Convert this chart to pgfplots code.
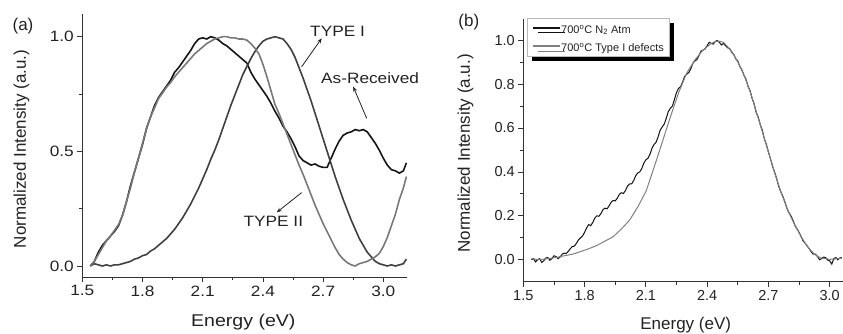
\documentclass[border=0pt]{standalone}
\usepackage{fontspec}
\setmainfont{Liberation Sans}
\newfontfamily\fa{Liberation Sans}[FakeStretch=1.15]
\usepackage{pgfplots}
\pgfplotsset{compat=1.18}
\usetikzlibrary{arrows.meta,shadows}
\definecolor{cAR}{HTML}{151515}
\definecolor{cT1}{HTML}{404040}
\definecolor{cT2}{HTML}{787878}
\definecolor{cB1}{HTML}{111111}
\definecolor{cB2}{HTML}{808080}
\definecolor{cAx}{HTML}{333333}
\definecolor{cTx}{HTML}{222222}
\pgfplotsset{
  common/.style={
    scale only axis,
    axis lines*=left,
    axis line style={cAx, line width=0.9pt},
    tick align=outside,
    major tick length=5pt,
    minor tick length=3pt,
    every tick/.style={cAx, line width=0.8pt},
    minor x tick num=1,
    minor y tick num=1,
    /pgf/number format/assume math mode=true,
    /pgf/number format/.cd, fixed, fixed zerofill, precision=1,
    /pgfplots/.cd,
    clip=false,
    tick label style={text=cTx},
    label style={text=cTx},
  }
}
\begin{document}
\begin{tikzpicture}
\useasboundingbox (0pt,0pt) rectangle (843pt,334pt);
% ---------------- panel (a)
\begin{axis}[common,
  at={(82.3pt,57pt)}, anchor=south west,
  width=324.7pt, height=263pt,
  xmin=1.5, xmax=3.118, ymin=-0.048, ymax=1.099,
  xtick={1.5,1.8,2.1,2.4,2.7,3.0},
  ytick={0,0.5,1.0},
  tick label style={font=\fa\fontsize{15}{15}\selectfont},
  xlabel={Energy (eV)},
  ylabel={Normalized Intensity (a.u.)},
  xlabel style={font=\fa\fontsize{17}{17}\selectfont, at={(axis description cs:0.496,-0.189)}, anchor=base},
  ylabel style={font=\fontsize{17}{17}\selectfont, at={(axis description cs:-0.187,0.487)}, anchor=center},
]
% As-Received
\addplot[cAR, line width=1.6pt] coordinates {
(1.54,0.0)(1.56,0.02)(1.58,0.06)(1.60,0.09)(1.62,0.11)(1.64,0.13)(1.66,0.15)(1.68,0.175)
(1.70,0.22)(1.72,0.28)(1.74,0.35)(1.76,0.41)(1.78,0.47)(1.80,0.53)(1.82,0.6)(1.84,0.65)
(1.86,0.7)(1.88,0.735)(1.90,0.76)(1.92,0.785)(1.94,0.81)(1.96,0.845)(1.98,0.865)(2.00,0.89)
(2.02,0.915)(2.04,0.94)(2.06,0.97)(2.08,0.99)(2.10,0.995)(2.12,0.99)(2.14,1.0)(2.16,0.995)
(2.18,0.985)(2.20,0.97)(2.22,0.96)(2.24,0.945)(2.26,0.93)(2.28,0.915)(2.30,0.9)(2.32,0.885)
(2.34,0.845)(2.36,0.815)(2.38,0.79)(2.40,0.765)(2.42,0.74)(2.44,0.71)(2.46,0.675)(2.48,0.645)
(2.50,0.61)(2.52,0.585)(2.54,0.555)(2.56,0.52)(2.58,0.48)(2.60,0.46)(2.62,0.45)(2.64,0.44)
(2.66,0.445)(2.68,0.435)(2.70,0.43)(2.72,0.43)(2.74,0.47)(2.76,0.51)(2.78,0.545)(2.80,0.57)
(2.82,0.58)(2.84,0.585)(2.86,0.595)(2.88,0.59)(2.90,0.595)(2.92,0.585)(2.94,0.56)(2.96,0.535)
(2.98,0.505)(3.00,0.47)(3.02,0.44)(3.04,0.42)(3.06,0.415)(3.08,0.405)(3.10,0.415)(3.115,0.45)
};
% TYPE I
\addplot[cT1, line width=1.6pt] coordinates {
(1.54,0.0)(1.56,0.01)(1.58,0.005)(1.60,0.0)(1.62,0.005)(1.64,0.0)(1.66,0.005)(1.68,0.005)
(1.70,0.01)(1.72,0.015)(1.74,0.02)(1.76,0.03)(1.78,0.035)(1.80,0.045)(1.82,0.05)(1.84,0.065)
(1.86,0.075)(1.88,0.09)(1.90,0.105)(1.92,0.12)(1.94,0.14)(1.96,0.16)(1.98,0.185)(2.00,0.21)
(2.02,0.24)(2.04,0.27)(2.06,0.305)(2.08,0.34)(2.10,0.38)(2.12,0.42)(2.14,0.465)(2.16,0.505)
(2.18,0.55)(2.20,0.6)(2.22,0.65)(2.24,0.7)(2.26,0.745)(2.28,0.79)(2.30,0.835)(2.32,0.87)
(2.34,0.905)(2.36,0.935)(2.38,0.96)(2.40,0.98)(2.42,0.99)(2.44,0.995)(2.46,1.0)(2.48,0.995)
(2.50,0.99)(2.52,0.97)(2.54,0.945)(2.56,0.91)(2.58,0.865)(2.60,0.82)(2.62,0.77)(2.64,0.72)
(2.66,0.665)(2.68,0.61)(2.70,0.555)(2.72,0.5)(2.74,0.445)(2.76,0.39)(2.78,0.34)(2.80,0.29)
(2.82,0.245)(2.84,0.2)(2.86,0.16)(2.88,0.12)(2.90,0.09)(2.92,0.06)(2.94,0.04)(2.96,0.02)
(2.98,0.01)(3.00,0.005)(3.02,0.0)(3.04,0.005)(3.06,0.0)(3.08,0.005)(3.10,0.01)(3.115,0.03)
};
% TYPE II
\addplot[cT2, line width=1.6pt] coordinates {
(1.54,0.0)(1.56,0.02)(1.58,0.05)(1.60,0.08)(1.62,0.11)(1.64,0.13)(1.66,0.155)(1.68,0.18)
(1.70,0.22)(1.72,0.28)(1.74,0.34)(1.76,0.41)(1.78,0.47)(1.80,0.535)(1.82,0.6)(1.84,0.65)
(1.86,0.69)(1.88,0.73)(1.90,0.755)(1.92,0.78)(1.94,0.8)(1.96,0.825)(1.98,0.845)(2.00,0.865)
(2.02,0.885)(2.04,0.905)(2.06,0.925)(2.08,0.94)(2.10,0.955)(2.12,0.97)(2.14,0.98)(2.16,0.99)
(2.18,0.995)(2.20,1.0)(2.22,1.0)(2.24,0.995)(2.26,0.995)(2.28,0.99)(2.30,0.99)(2.32,0.985)
(2.34,0.97)(2.36,0.95)(2.38,0.925)(2.40,0.88)(2.42,0.825)(2.44,0.765)(2.46,0.705)(2.48,0.665)
(2.50,0.62)(2.52,0.575)(2.54,0.53)(2.56,0.485)(2.58,0.44)(2.60,0.4)(2.62,0.355)(2.64,0.31)
(2.66,0.265)(2.68,0.225)(2.70,0.185)(2.72,0.15)(2.74,0.115)(2.76,0.08)(2.78,0.05)(2.80,0.03)
(2.82,0.015)(2.84,0.005)(2.86,0.0)(2.88,0.01)(2.90,0.015)(2.92,0.02)(2.94,0.03)(2.96,0.04)
(2.98,0.055)(3.00,0.085)(3.02,0.125)(3.04,0.175)(3.06,0.225)(3.08,0.29)(3.10,0.34)(3.115,0.39)
};
\node[text=cTx, font=\fa\fontsize{15}{15}\selectfont, anchor=base] at (axis cs:2.772,1.0) {TYPE I};
\node[text=cTx, font=\fa\fontsize{15}{15}\selectfont, anchor=base] at (axis cs:2.934,0.797) {As-Received};
\node[text=cTx, font=\fa\fontsize{15}{15}\selectfont, anchor=base] at (axis cs:2.452,0.171) {TYPE II};
\draw[cTx, line width=0.8pt, -{Stealth[length=5pt,width=4pt]}] (axis cs:2.593,0.869) -- (axis cs:2.693,0.993);
\draw[cTx, line width=0.8pt, -{Stealth[length=5pt,width=4pt]}] (axis cs:2.917,0.644) -- (axis cs:2.85,0.782);
\draw[cTx, line width=0.8pt, -{Stealth[length=5pt,width=4pt]}] (axis cs:2.593,0.32) -- (axis cs:2.469,0.234);
\end{axis}
\node[text=cTx, font=\fontsize{17}{17}\selectfont] at (23pt,308.2pt) {(a)};
% ---------------- panel (b)
\begin{axis}[common,
  at={(523.3pt,52.3pt)}, anchor=south west,
  width=319.7pt, height=262.4pt,
  xmin=1.5, xmax=3.065, ymin=-0.1, ymax=1.095,
  xtick={1.5,1.8,2.1,2.4,2.7,3.0},
  ytick={0,0.2,0.4,0.6,0.8,1.0},
  tick label style={font=\fontsize{14.5}{14.5}\selectfont},
  xlabel={Energy (eV)},
  ylabel={Normalized Intensity (a.u.)},
  xlabel style={font=\fontsize{17}{17}\selectfont, at={(axis description cs:0.508,-0.184)}, anchor=base},
  ylabel style={font=\fontsize{17}{17}\selectfont, at={(axis description cs:-0.181,0.489)}, anchor=center},
  legend style={at={(axis description cs:0.011,1.006)}, anchor=north west,
    draw=gray!55, fill=white, line width=0.6pt,
    drop shadow={shadow xshift=5pt, shadow yshift=-5pt, fill=black, opacity=1},
    font=\fontsize{11}{12}\selectfont, text=cTx,
    inner xsep=5pt, inner ysep=2pt, /tikz/row sep=3pt,
    nodes={inner xsep=0.5pt, inner ysep=1pt}},
  legend cell align=left,
  legend image code/.code={\draw[#1, line width=1.6pt] (0pt,0pt) -- (27pt,0pt);},
]
\addplot[cB1, line width=1pt] coordinates {
(1.54,0.00)(1.55,0.005)(1.56,-0.01)(1.57,0.0)(1.58,0.005)(1.59,-0.012)(1.60,-0.005)(1.61,0.008)(1.62,0.01)(1.63,-0.002)
(1.64,0.005)(1.65,0.018)(1.66,0.015)(1.67,0.005)(1.68,0.012)(1.69,0.025)(1.70,0.03)(1.71,0.028)(1.72,0.038)(1.73,0.05)
(1.74,0.06)(1.75,0.062)(1.76,0.075)(1.77,0.09)(1.78,0.10)(1.79,0.108)(1.80,0.125)(1.81,0.145)(1.82,0.16)(1.83,0.155)
(1.84,0.17)(1.85,0.19)(1.86,0.20)(1.87,0.198)(1.88,0.21)(1.89,0.228)(1.90,0.235)(1.91,0.232)(1.92,0.245)(1.93,0.262)
(1.94,0.27)(1.95,0.268)(1.96,0.28)(1.97,0.298)(1.98,0.305)(1.99,0.302)(2.00,0.315)(2.01,0.335)(2.02,0.345)(2.03,0.345)
(2.04,0.36)(2.05,0.382)(2.06,0.395)(2.07,0.4)(2.08,0.415)(2.09,0.44)(2.10,0.455)(2.11,0.462)(2.12,0.48)(2.13,0.508)
(2.14,0.525)(2.15,0.535)(2.16,0.56)(2.17,0.59)(2.18,0.605)(2.19,0.618)(2.20,0.645)(2.21,0.675)(2.22,0.69)(2.23,0.7)
(2.24,0.73)(2.25,0.762)(2.26,0.78)(2.27,0.788)(2.28,0.81)(2.29,0.835)(2.30,0.845)(2.31,0.852)(2.32,0.87)(2.33,0.895)
(2.34,0.905)(2.35,0.912)(2.36,0.93)(2.37,0.95)(2.38,0.955)(2.39,0.96)(2.40,0.975)(2.41,0.99)(2.42,0.985)(2.43,0.982)
(2.44,0.995)(2.45,0.998)(2.46,0.99)(2.47,0.978)(2.48,0.985)(2.49,0.975)(2.50,0.965)(2.51,0.962)(2.52,0.945)(2.53,0.935)
(2.54,0.915)(2.55,0.905)(2.56,0.88)(2.57,0.865)(2.58,0.84)(2.59,0.822)(2.60,0.79)(2.61,0.77)(2.62,0.735)(2.63,0.71)
(2.64,0.67)(2.65,0.65)(2.66,0.615)(2.67,0.59)(2.68,0.55)(2.69,0.525)(2.70,0.49)(2.71,0.46)(2.72,0.425)(2.73,0.4)
(2.74,0.37)(2.75,0.335)(2.76,0.31)(2.77,0.29)(2.78,0.265)(2.79,0.235)(2.80,0.215)(2.81,0.2)(2.82,0.18)(2.83,0.155)
(2.84,0.14)(2.85,0.125)(2.86,0.105)(2.87,0.085)(2.88,0.075)(2.89,0.062)(2.90,0.05)(2.91,0.035)(2.92,0.025)(2.93,0.025)
(2.94,0.015)(2.95,0.0)(2.96,0.005)(2.97,0.012)(2.98,0.01)(2.99,-0.002)(3.00,-0.005)(3.01,-0.02)(3.02,0.005)(3.03,0.01)
(3.04,0.0)(3.05,0.008)(3.06,0.01)
};
\addlegendentry{\rule[-3pt]{0pt}{15pt}700\textsuperscript{o}C N\textsubscript{2} Atm}
\addplot[cB2, line width=1pt] coordinates {
(1.54,0.005)(1.58,0.0)(1.62,0.005)(1.66,0.01)(1.70,0.018)(1.74,0.025)(1.78,0.037)(1.82,0.05)
(1.86,0.065)(1.90,0.085)(1.94,0.105)(1.98,0.14)(2.02,0.18)(2.06,0.24)(2.10,0.31)(2.14,0.42)
(2.18,0.535)(2.22,0.65)(2.26,0.76)(2.30,0.85)(2.34,0.91)(2.38,0.955)(2.42,0.985)(2.44,0.993)
(2.46,0.995)(2.48,0.99)(2.50,0.97)(2.52,0.948)(2.54,0.918)(2.56,0.882)(2.58,0.842)(2.60,0.792)
(2.62,0.738)(2.64,0.675)(2.66,0.615)(2.68,0.552)(2.70,0.49)(2.72,0.428)(2.74,0.368)(2.76,0.312)
(2.78,0.262)(2.80,0.215)(2.82,0.175)(2.84,0.14)(2.86,0.105)(2.88,0.075)(2.90,0.05)(2.92,0.03)
(2.94,0.015)(2.96,0.008)(2.98,0.005)(3.00,0.002)(3.02,0.003)(3.04,0.005)(3.06,0.008)
};
\addlegendentry{\rule[-3pt]{0pt}{15pt}700\textsuperscript{o}C Type I defects}
\end{axis}
\node[text=cTx, font=\fontsize{17}{17}\selectfont] at (468.8pt,312.3pt) {(b)};
\end{tikzpicture}
\end{document}
